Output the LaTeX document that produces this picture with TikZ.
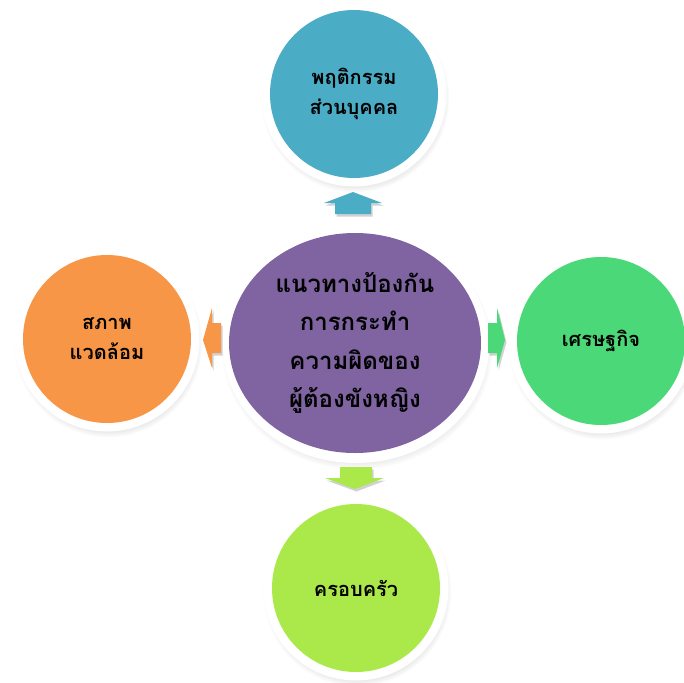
\documentclass[tikz,border=0pt]{standalone}
\usepackage{fontspec}
\newfontfamily\thai[Script=Thai]{Loma}
\usetikzlibrary{shapes.geometric,shadows}
\definecolor{cteal}{HTML}{4BACC6}
\definecolor{cpurple}{HTML}{8064A2}
\definecolor{cgreen}{HTML}{4AD878}
\definecolor{corange}{HTML}{F79646}
\definecolor{clime}{HTML}{ABE84A}
\tikzset{
  ring/.style={circle, fill=white, inner sep=0pt, minimum size=#1,
    circular drop shadow={shadow xshift=1pt, shadow yshift=-4pt, shadow scale=1.02, opacity=0.35}},
  disc/.style={circle, fill=#1, inner sep=0pt, align=center, text=black},
  outertext/.style={font=\thai\bfseries\fontsize{20}{30}\selectfont},
  centertext/.style={font=\thai\bfseries\fontsize{24}{38.5}\selectfont},
  arrowshadow/.style={fill=black, opacity=0.18},
  blockfill/.style={fill=#1}
}
\begin{document}
\begin{tikzpicture}[x=1pt,y=-1pt]
\useasboundingbox (0,0) rectangle (684,682);
% outer circles
\node[ring=185pt] (tr) at (354,94) {};
\node[disc=cteal, minimum size=168pt, outertext] (t) at (354,94) {พฤติกรรม\\ส่วนบุคคล};
\node[ring=185pt] (rr) at (601,341) {};
\node[disc=cgreen, minimum size=168pt, outertext] (r) at (601,341) {เศรษฐกิจ};
\node[ring=185pt] (lr) at (107,339) {};
\node[disc=corange, minimum size=168pt, outertext] (l) at (107,339) {สภาพ\\แวดล้อม};
\node[ring=185pt] (br) at (356,588) {};
\node[disc=clime, minimum size=168pt, outertext] (b) at (356,588) {ครอบครัว};
% center
\node[ellipse, fill=white, inner sep=0pt, minimum width=266pt, minimum height=236pt,
  circular drop shadow={shadow xshift=1pt, shadow yshift=-4pt, shadow scale=1.02, opacity=0.35}] (cr) at (356,345) {};
\node[ellipse, fill=cpurple, inner sep=0pt, minimum width=252pt, minimum height=220pt, align=center, centertext] (c) at (355,343) {แนวทางป้องกัน\\การกระทำ\\ความผิดของ\\ผู้ต้องขังหญิง};
% block arrows: top
\coordinate (at) at (353,192);
\fill[arrowshadow] ([shift={(1.5,2.5)}]at) -- ++(29,11) -- ++(-11,0) -- ++(0,11) -- ++(-36,0) -- ++(0,-11) -- ++(-11,0) -- cycle;
\fill[blockfill=cteal] (at) -- ++(29,11) -- ++(-11,0) -- ++(0,11) -- ++(-36,0) -- ++(0,-11) -- ++(-11,0) -- cycle;
% right
\coordinate (ar) at (505,340);
\fill[arrowshadow] ([shift={(1.5,2.5)}]ar) -- ++(-8,28) -- ++(0,-15) -- ++(-9,0) -- ++(0,-30) -- ++(9,0) -- ++(0,-15) -- cycle;
\fill[blockfill=cgreen] (ar) -- ++(-8,28) -- ++(0,-15) -- ++(-9,0) -- ++(0,-30) -- ++(9,0) -- ++(0,-15) -- cycle;
% left
\coordinate (al) at (203,340);
\fill[arrowshadow] ([shift={(1.5,2.5)}]al) -- ++(9,28) -- ++(0,-15) -- ++(9,0) -- ++(0,-30) -- ++(-9,0) -- ++(0,-15) -- cycle;
\fill[blockfill=corange] (al) -- ++(9,28) -- ++(0,-15) -- ++(9,0) -- ++(0,-30) -- ++(-9,0) -- ++(0,-15) -- cycle;
% bottom
\coordinate (ab) at (355,489);
\fill[arrowshadow] ([shift={(1.5,2.5)}]ab) -- ++(29,-11) -- ++(-12,0) -- ++(0,-11) -- ++(-32,0) -- ++(0,11) -- ++(-15,0) -- cycle;
\fill[blockfill=clime] (ab) -- ++(29,-11) -- ++(-12,0) -- ++(0,-11) -- ++(-32,0) -- ++(0,11) -- ++(-15,0) -- cycle;
\end{tikzpicture}
\end{document}
